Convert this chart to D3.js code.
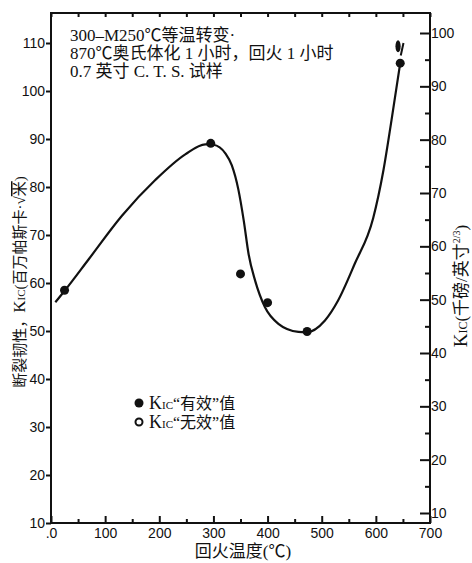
<!DOCTYPE html>
<html><head><meta charset="utf-8">
<script src="https://cdn.jsdelivr.net/npm/d3@7"></script>
<style>
body{margin:0;background:#fff;}
svg text{fill:#111;}
</style></head>
<body><svg id="c" width="472" height="563"></svg>
<script>
// ---- data ----
const xTicks = [0, 100, 200, 300, 400, 500, 600, 700];
const xTickLabels = [".0", "100", "200", "300", "400", "500", "600", "700"];
const xMinorTicks = [50, 150, 250, 350, 450, 550, 650];
const leftTicks = [10, 20, 30, 40, 50, 60, 70, 80, 90, 100, 110];
const rightTicks = [10, 20, 30, 40, 50, 60, 70, 80, 90, 100];
const rightMinorTicks = [15, 25, 35, 45, 55, 65, 75, 85, 95];
// valid K_IC points (temperature °C, MPa·√m)
const pointTemp = [25, 295, 350, 400, 473, 645];
const pointKic  = [58.5, 89.1, 61.9, 55.9, 49.9, 105.8];
// fitted curve
const curveTemp = [8, 26, 70, 131, 193, 248, 285, 300, 322, 334, 346, 356, 365, 377, 395, 420, 457, 471, 506, 530, 561, 595, 614, 629, 645];
const curveKic  = [56, 58.5, 65, 74, 81.5, 86.8, 88.9, 88.8, 87, 84.5, 79.5, 73, 66, 60.5, 55, 51.5, 49.8, 49.7, 52.2, 56.3, 64, 73.5, 83.5, 94, 105.8];
const noteLines = ["300–M250℃等温转变·", "870℃奥氏体化 1 小时，回火 1 小时", "0.7 英寸 C. T. S. 试样"];
const legendLabels = ["“有效”值", "“无效”值"];

const svg = d3.select("#c");
const L = 51, R = 430, T = 13, B = 523;
const x = d3.scaleLinear().domain([0, 700]).range([L, R]);
const yL = d3.scaleLinear().domain([10, 110]).range([523, 43]);
const yR = d3.scaleLinear().domain([10, 100]).range([513, 33]);

const numFont = "'Liberation Sans', Arial, sans-serif";
const cjkFont = "'Liberation Serif', 'Noto Sans CJK SC', serif";

// frame
svg.append("path")
  .attr("d", `M${L},${T}H${R}V${B}H${L}Z`)
  .attr("fill", "none").attr("stroke", "#111").attr("stroke-width", 2);

function style(g){
  g.select(".domain").remove();
  g.selectAll("line").attr("stroke", "#111").attr("stroke-width", 2);
  g.selectAll("text").attr("font-family", numFont).attr("font-size", 14).attr("fill", "#111");
}

// left axis
svg.append("g").attr("transform", `translate(${L},0)`)
  .call(d3.axisLeft(yL).tickValues(leftTicks).tickSize(5).tickPadding(1))
  .call(style);
// right axis (major + minor)
svg.append("g").attr("transform", `translate(${R},0)`)
  .call(d3.axisRight(yR).tickValues(rightTicks).tickSize(-10).tickPadding(1))
  .call(style);
svg.append("g").attr("transform", `translate(${R},0)`)
  .call(d3.axisRight(yR).tickValues(rightMinorTicks).tickSize(-5).tickFormat(""))
  .call(style);
// bottom axis
svg.append("g").attr("transform", `translate(0,${B})`)
  .call(d3.axisBottom(x).tickValues(xTicks).tickSize(-7).tickPadding(5)
        .tickFormat((d, i) => xTickLabels[i]))
  .call(style);
svg.append("g").attr("transform", `translate(0,${B})`)
  .call(d3.axisBottom(x).tickValues(xMinorTicks).tickSize(-4).tickFormat(""))
  .call(style);
// top axis ticks
svg.append("g").attr("transform", `translate(0,${T})`)
  .call(d3.axisTop(x).tickValues(xTicks.concat(xMinorTicks)).tickSize(-4).tickFormat(""))
  .call(style);

// curve
const curveData = curveTemp.map((t, i) => [t, curveKic[i]]);
svg.append("path").datum(curveData)
  .attr("d", d3.line().x(d => x(d[0])).y(d => yL(d[1])).curve(d3.curveMonotoneX))
  .attr("fill", "none").attr("stroke", "#111").attr("stroke-width", 2.2);

// points
svg.selectAll("circle.pt").data(pointTemp).join("circle")
  .attr("class", "pt")
  .attr("cx", d => x(d)).attr("cy", (d, i) => yL(pointKic[i]))
  .attr("r", 4.5).attr("fill", "#111");

// mark above last point
svg.append("ellipse").attr("cx", x(641)).attr("cy", yL(109.3)).attr("rx", 2.6).attr("ry", 6).attr("fill", "#111");
svg.append("line").attr("x1", x(651)).attr("y1", yL(110)).attr("x2", x(646)).attr("y2", yL(107.4))
  .attr("stroke", "#111").attr("stroke-width", 2);

// note text
const note = svg.append("text").attr("font-family", cjkFont).attr("font-size", 17);
noteLines.forEach((s, i) => {
  note.append("tspan").attr("x", 70).attr("y", 41 + i * 18).text(s);
});

// legend
const leg = svg.append("g");
[0, 1].forEach(i => {
  const cy = 403 + i * 19;
  leg.append("circle").attr("cx", 139).attr("cy", cy).attr("r", i === 0 ? 4.5 : 3.5)
    .attr("fill", i === 0 ? "#111" : "#fff").attr("stroke", "#111").attr("stroke-width", i === 0 ? 0 : 2);
  const t = leg.append("text").attr("x", 149).attr("y", cy + 6).attr("font-family", cjkFont).attr("font-size", 16);
  t.append("tspan").attr("font-size", 18).text("K");
  t.append("tspan").attr("font-size", 11).text("IC");
  t.append("tspan").text(legendLabels[i]);
});

// x title
svg.append("text").attr("x", 243).attr("y", 557).attr("text-anchor", "middle")
  .attr("font-family", cjkFont).attr("font-size", 17).text("回火温度(℃)");

// left title
const lt = svg.append("text").attr("transform", "translate(25,282) rotate(-90)")
  .attr("text-anchor", "middle").attr("font-family", cjkFont).attr("font-size", 15);
lt.append("tspan").text("断裂韧性，");
lt.append("tspan").attr("font-size", 17).text("K");
lt.append("tspan").attr("font-size", 11).text("IC");
lt.append("tspan").text("(百万帕斯卡·√");
lt.append("tspan").attr("text-decoration", "overline").text("米");
lt.append("tspan").text(")");

// right title
const rt = svg.append("text").attr("transform", "translate(467,286) rotate(-90)")
  .attr("text-anchor", "middle").attr("font-family", cjkFont).attr("font-size", 17);
rt.append("tspan").attr("font-size", 19).text("K");
rt.append("tspan").attr("font-size", 12).text("IC");
rt.append("tspan").text("(千磅/英寸");
rt.append("tspan").attr("font-size", 10).attr("dy", -7).text("2/3");
rt.append("tspan").attr("dy", 7).text(")");
</script>
</body></html>
